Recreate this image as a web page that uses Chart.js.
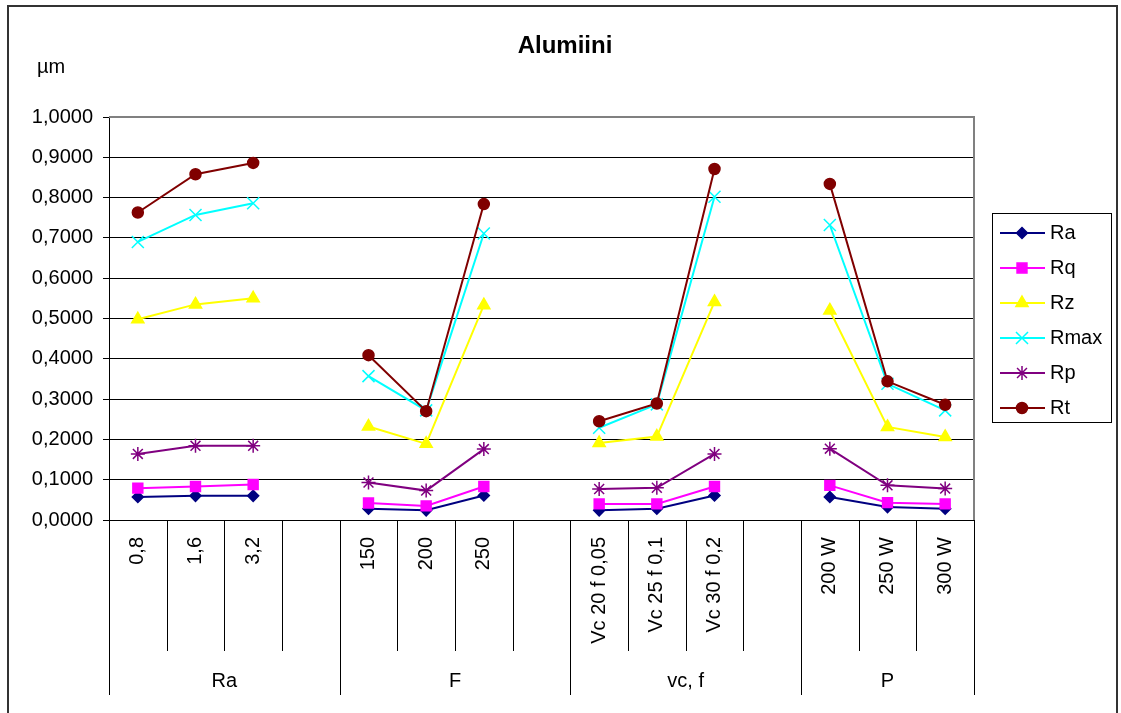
<!DOCTYPE html>
<html>
<head>
<meta charset="utf-8">
<title>Alumiini</title>
<script src="https://cdn.jsdelivr.net/npm/chart.js@4/dist/chart.umd.min.js"></script>
<style>
  html, body { margin: 0; padding: 0; background: #fff; }
  canvas { display: block; }
</style>
</head>
<body>
<canvas id="alumiiniChart" width="1121" height="713"></canvas>
<script>
// Category axis: one empty slot closes each group
const kategoriat = [
    '0,8', '1,6', '3,2', '',
    '150', '200', '250', '',
    'Vc 20 f 0,05', 'Vc 25 f 0,1', 'Vc 30 f 0,2', '',
    '200 W', '250 W', '300 W'
];
const ryhmat = ['Ra', 'F', 'vc, f', 'P'];
const ryhmienKoot = [4, 4, 4, 3];

// Roughness values (µm)
const Ra   = [0.057, 0.060, 0.060, null, 0.028, 0.024, 0.061, null, 0.024, 0.028, 0.061, null, 0.057, 0.032, 0.028];
const Rq   = [0.079, 0.083, 0.088, null, 0.042, 0.035, 0.083, null, 0.040, 0.040, 0.083, null, 0.086, 0.043, 0.040];
const Rz   = [0.498, 0.535, 0.550, null, 0.232, 0.189, 0.533, null, 0.191, 0.207, 0.541, null, 0.520, 0.231, 0.206];
const Rmax = [0.690, 0.757, 0.786, null, 0.357, 0.272, 0.711, null, 0.229, 0.287, 0.802, null, 0.732, 0.338, 0.272];
const Rp   = [0.164, 0.184, 0.184, null, 0.093, 0.073, 0.176, null, 0.077, 0.080, 0.164, null, 0.177, 0.086, 0.078];
const Rt   = [0.763, 0.858, 0.886, null, 0.409, 0.270, 0.784, null, 0.245, 0.289, 0.871, null, 0.834, 0.344, 0.286];

const yMin = 0;
const yMax = 1;
const yStep = 0.1;

const FONT = "'Liberation Sans', Arial, sans-serif";

function sarja(label, data, color, pointStyle, radius, order) {
    return {
        label: label,
        data: data,
        borderColor: color,
        backgroundColor: color,
        pointBackgroundColor: color,
        pointBorderColor: color,
        borderWidth: 2,
        pointStyle: pointStyle,
        pointRadius: radius,
        pointHoverRadius: radius,
        pointBorderWidth: 1.5,
        tension: 0,
        spanGaps: false,
        order: order
    };
}

const datasets = [
    sarja('Ra', Ra, '#000080', 'rectRot', 5.5, 6),
    sarja('Rq', Rq, '#FF00FF', 'rect', 7, 5),
    sarja('Rz', Rz, '#FFFF00', 'triangle', 7, 4),
    sarja('Rmax', Rmax, '#00FFFF', 'crossRot', 8.5, 3),
    sarja('Rp', Rp, '#800080', 'star', 7, 2),
    sarja('Rt', Rt, '#800000', 'circle', 5.5, 1)
];

// Frame, title, unit, group row and legend box drawn on the canvas
const kehysPlugin = {
    id: 'kehys',
    beforeDraw(chart) {
        const ctx = chart.ctx;
        ctx.save();
        ctx.fillStyle = '#fff';
        ctx.fillRect(0, 0, chart.width, chart.height);
        ctx.restore();
    },
    afterDraw(chart) {
        const ctx = chart.ctx;
        const area = chart.chartArea;
        const x = chart.scales.x;

        ctx.save();

        // plot area border (top + right)
        ctx.strokeStyle = '#808080';
        ctx.lineWidth = 2;
        ctx.beginPath();
        ctx.moveTo(area.left, area.top);
        ctx.lineTo(area.right, area.top);
        ctx.lineTo(area.right, area.bottom);
        ctx.stroke();

        // category separators
        const raja = i => {
            if (i <= 0) return x.left;
            if (i >= kategoriat.length) return x.right;
            return (x.getPixelForValue(i - 1) + x.getPixelForValue(i)) / 2;
        };
        const ryhmaRajat = [0];
        ryhmienKoot.forEach(k => ryhmaRajat.push(ryhmaRajat[ryhmaRajat.length - 1] + k));

        ctx.strokeStyle = '#000';
        ctx.lineWidth = 1;
        for (let i = 0; i <= kategoriat.length; i++) {
            const px = Math.round(raja(i)) + 0.5;
            const pitka = ryhmaRajat.includes(i);
            ctx.beginPath();
            ctx.moveTo(px, area.bottom);
            ctx.lineTo(px, pitka ? 695 : 651);
            ctx.stroke();
        }

        // group labels
        ctx.fillStyle = '#000';
        ctx.font = '20px ' + FONT;
        ctx.textAlign = 'center';
        ctx.textBaseline = 'middle';
        ryhmat.forEach((nimi, g) => {
            const a = raja(ryhmaRajat[g]);
            const b = raja(ryhmaRajat[g + 1]);
            ctx.fillText(nimi, (a + b) / 2, 681);
        });

        // title + unit
        ctx.font = 'bold 24px ' + FONT;
        ctx.fillText('Alumiini', 565, 46);
        ctx.font = '20px ' + FONT;
        ctx.textAlign = 'left';
        ctx.fillText('µm', 37, 67);

        // legend
        ctx.strokeStyle = '#000';
        ctx.lineWidth = 1;
        ctx.strokeRect(992.5, 213.5, 119, 209);
        ctx.font = '20px ' + FONT;
        chart.data.datasets.forEach((ds, i) => {
            const y = 233 + i * 35;
            ctx.strokeStyle = ds.borderColor;
            ctx.fillStyle = ds.borderColor;
            ctx.lineWidth = 2;
            ctx.beginPath();
            ctx.moveTo(1000, y);
            ctx.lineTo(1045, y);
            ctx.stroke();
            ctx.lineWidth = 1.5;
            Chart.helpers.drawPoint(ctx, {
                pointStyle: ds.pointStyle,
                radius: ds.pointRadius,
                rotation: 0,
                borderWidth: 1.5
            }, 1022, y);
            ctx.fillStyle = '#000';
            ctx.fillText(ds.label, 1050, y);
        });

        // outer frame
        ctx.strokeStyle = '#333';
        ctx.lineWidth = 2;
        ctx.strokeRect(8, 6, 1109, 800);

        ctx.restore();
    }
};

const ctx = document.getElementById('alumiiniChart');
const chart = new Chart(ctx, {
    type: 'line',
    data: {
        labels: kategoriat,
        datasets: datasets
    },
    plugins: [kehysPlugin],
    options: {
        responsive: false,
        animation: false,
        layout: {
            padding: { top: 117, right: 147, bottom: 0, left: 0 }
        },
        plugins: {
            legend: { display: false },
            title: { display: false },
            tooltip: { enabled: false }
        },
        scales: {
            x: {
                type: 'category',
                offset: true,
                grid: { display: false, drawTicks: false },
                border: { display: true, color: '#000', width: 1 },
                ticks: {
                    autoSkip: false,
                    minRotation: 90,
                    maxRotation: 90,
                    padding: 17,
                    color: '#000',
                    font: { family: FONT, size: 20 }
                },
                afterFit(scale) {
                    scale.height = 193;
                }
            },
            y: {
                min: yMin,
                max: yMax,
                grid: { color: '#000', lineWidth: 1, tickLength: 6 },
                border: { display: true, color: '#000', width: 1 },
                ticks: {
                    stepSize: yStep,
                    padding: 10,
                    color: '#000',
                    font: { family: FONT, size: 20 },
                    callback: v => v.toFixed(4).replace('.', ',')
                },
                afterFit(scale) {
                    scale.width = 109;
                }
            }
        }
    }
});
</script>
</body>
</html>
